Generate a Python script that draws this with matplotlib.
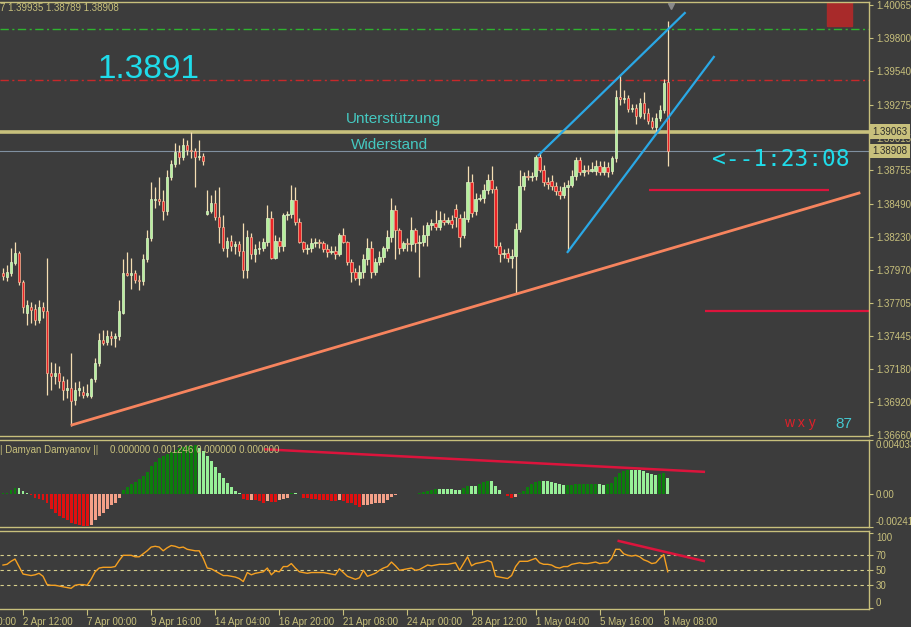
import matplotlib.pyplot as plt
import matplotlib.transforms as mtransforms
from matplotlib.patches import Rectangle
import numpy as np

plt.rcParams['font.family'] = ['Liberation Sans', 'DejaVu Sans']

BG = '#3c3c3c'
FG = '#c8c07c'
WICK = '#f5deb3'
BULL = '#b4f09c'
BEAR = '#ec2226'

# H4 candles, oldest first
opens = [1.3794, 1.3791, 1.3794, 1.3802, 1.3810, 1.3787, 1.3763, 1.3767, 1.3766, 1.3757,
         1.3767, 1.3764, 1.3715, 1.3713, 1.3715, 1.3709, 1.3702, 1.3703, 1.3694, 1.3702,
         1.3700, 1.3698, 1.3697, 1.3710, 1.3723, 1.3741, 1.3740, 1.3744, 1.3743, 1.3744,
         1.3763, 1.3794, 1.3793, 1.3794, 1.3789, 1.3788, 1.3805, 1.3822, 1.3852, 1.3853,
         1.3851, 1.3843, 1.3870, 1.3881, 1.3890, 1.3886, 1.3896, 1.3892, 1.3891, 1.3886,
         1.3887, 1.3841, 1.3843, 1.3850, 1.3839, 1.3831, 1.3814, 1.3820, 1.3816, 1.3817,
         1.3812, 1.3797, 1.3823, 1.3809, 1.3813, 1.3814, 1.3819, 1.3838, 1.3806, 1.3820,
         1.3816, 1.3840, 1.3841, 1.3852, 1.3835, 1.3819, 1.3813, 1.3814, 1.3818, 1.3819,
         1.3818, 1.3813, 1.3811, 1.3812, 1.3809, 1.3824, 1.3819, 1.3803, 1.3795, 1.3790,
         1.3795, 1.3805, 1.3814, 1.3795, 1.3803, 1.3807, 1.3814, 1.3823, 1.3844, 1.3828,
         1.3814, 1.3818, 1.3817, 1.3828, 1.3818, 1.3819, 1.3824, 1.3832, 1.3834, 1.3831,
         1.3836, 1.3835, 1.3836, 1.3845, 1.3838, 1.3824, 1.3837, 1.3866, 1.3843, 1.3853,
         1.3854, 1.3860, 1.3868, 1.3861, 1.3816, 1.3809, 1.3810, 1.3806, 1.3808, 1.3829,
         1.3863, 1.3871, 1.3870, 1.3871, 1.3886, 1.3876, 1.3866, 1.3867, 1.3863, 1.3859,
         1.3856, 1.3862, 1.3864, 1.3871, 1.3884, 1.3874, 1.3876, 1.3875, 1.3875, 1.3879,
         1.3874, 1.3878, 1.3875, 1.3885, 1.3934, 1.3932, 1.3933, 1.3924, 1.3925, 1.3919,
         1.3929, 1.3921, 1.3915, 1.3910, 1.3917, 1.3923, 1.39457]
highs = [1.3798, 1.3801, 1.3814, 1.3819, 1.3812, 1.3789, 1.3773, 1.3771, 1.3770, 1.3773,
         1.3771, 1.3806, 1.3724, 1.3723, 1.3721, 1.3713, 1.3710, 1.3731, 1.3708, 1.3709,
         1.3705, 1.3706, 1.3711, 1.3727, 1.3747, 1.3749, 1.3749, 1.3748, 1.3747, 1.3773,
         1.3805, 1.3811, 1.3806, 1.3797, 1.3793, 1.3809, 1.3828, 1.3866, 1.3862, 1.3870,
         1.3860, 1.3876, 1.3884, 1.3897, 1.3896, 1.3901, 1.3900, 1.3906, 1.3893, 1.3900,
         1.3889, 1.3860, 1.3856, 1.3860, 1.3862, 1.3840, 1.3823, 1.3824, 1.3820, 1.3820,
         1.3834, 1.3828, 1.3826, 1.3817, 1.3820, 1.3822, 1.3848, 1.3843, 1.3824, 1.3823,
         1.3842, 1.3843, 1.3864, 1.3862, 1.3838, 1.3820, 1.3817, 1.3822, 1.3822, 1.3821,
         1.3820, 1.3817, 1.3816, 1.3816, 1.3826, 1.3830, 1.3820, 1.3805, 1.3798, 1.3801,
         1.3809, 1.3822, 1.3820, 1.3806, 1.3812, 1.3816, 1.3828, 1.3854, 1.3848, 1.3830,
         1.3820, 1.3822, 1.3839, 1.3830, 1.3824, 1.3832, 1.3835, 1.3837, 1.3844, 1.3843,
         1.3842, 1.3839, 1.3840, 1.3849, 1.3841, 1.3843, 1.3879, 1.3873, 1.3858, 1.3857,
         1.3865, 1.3873, 1.3879, 1.3863, 1.3819, 1.3813, 1.3814, 1.3813, 1.3834, 1.3876,
         1.3874, 1.3876, 1.3874, 1.3888, 1.3889, 1.3880, 1.3870, 1.3872, 1.3866, 1.3863,
         1.3866, 1.3868, 1.3876, 1.3886, 1.3886, 1.3880, 1.3880, 1.3882, 1.3884, 1.3883,
         1.3883, 1.3882, 1.3887, 1.3939, 1.3951, 1.3939, 1.3935, 1.3928, 1.3928, 1.3933,
         1.3938, 1.3925, 1.3918, 1.3921, 1.3927, 1.3948, 1.39935]
lows = [1.3789, 1.3788, 1.3792, 1.3801, 1.3785, 1.3763, 1.3753, 1.3755, 1.3753, 1.3755,
        1.3759, 1.3698, 1.3702, 1.3706, 1.3703, 1.3694, 1.3695, 1.3673, 1.3690, 1.3697,
        1.3695, 1.3696, 1.3695, 1.3708, 1.3721, 1.3737, 1.3737, 1.3737, 1.3736, 1.3741,
        1.3762, 1.3792, 1.3782, 1.3786, 1.3781, 1.3785, 1.3803, 1.3820, 1.3846, 1.3848,
        1.3836, 1.3840, 1.3868, 1.3878, 1.3881, 1.3884, 1.3888, 1.3885, 1.3862, 1.3884,
        1.3880, 1.3840, 1.3842, 1.3836, 1.3818, 1.3812, 1.3807, 1.3812, 1.3809, 1.3808,
        1.3790, 1.3790, 1.3805, 1.3803, 1.3809, 1.3812, 1.3816, 1.3805, 1.3805, 1.3811,
        1.3812, 1.3836, 1.3838, 1.3832, 1.3818, 1.3811, 1.3809, 1.3811, 1.3815, 1.3814,
        1.3811, 1.3807, 1.3809, 1.3805, 1.3808, 1.3818, 1.3801, 1.3787, 1.3789, 1.3785,
        1.3790, 1.3801, 1.3790, 1.3793, 1.3801, 1.3803, 1.3812, 1.3819, 1.3805, 1.3809,
        1.3812, 1.3812, 1.3812, 1.3811, 1.3791, 1.3816, 1.3816, 1.3828, 1.3828, 1.3828,
        1.3832, 1.3833, 1.3830, 1.3831, 1.3815, 1.3822, 1.3835, 1.3839, 1.3840, 1.3851,
        1.3850, 1.3857, 1.3858, 1.3814, 1.3803, 1.3806, 1.3803, 1.3798, 1.3778, 1.3827,
        1.3860, 1.3868, 1.3867, 1.3868, 1.3874, 1.3863, 1.3861, 1.3860, 1.3856, 1.3853,
        1.3854, 1.3812, 1.3862, 1.3868, 1.3872, 1.3871, 1.3873, 1.3874, 1.3872, 1.3872,
        1.3872, 1.3870, 1.3873, 1.3882, 1.3927, 1.3929, 1.3922, 1.3922, 1.3912, 1.3917,
        1.3916, 1.3912, 1.3908, 1.3906, 1.3915, 1.3921, 1.38789]
closes = [1.3792, 1.3795, 1.3803, 1.3810, 1.3787, 1.3767, 1.3769, 1.3765, 1.3757, 1.3767,
          1.3764, 1.3715, 1.3713, 1.3715, 1.3709, 1.3702, 1.3703, 1.3693, 1.3702, 1.3703,
          1.3698, 1.3699, 1.3710, 1.3723, 1.3741, 1.3739, 1.3744, 1.3743, 1.3744, 1.3764,
          1.3794, 1.3793, 1.3794, 1.3789, 1.3788, 1.3805, 1.3822, 1.3853, 1.3853, 1.3851,
          1.3843, 1.3870, 1.3881, 1.3890, 1.3886, 1.3896, 1.3892, 1.3891, 1.3886, 1.3887,
          1.3883, 1.3843, 1.3850, 1.3839, 1.3831, 1.3814, 1.3820, 1.3816, 1.3817, 1.3812,
          1.3797, 1.3823, 1.3809, 1.3813, 1.3814, 1.3819, 1.3838, 1.3806, 1.3820, 1.3816,
          1.3840, 1.3841, 1.3852, 1.3835, 1.3819, 1.3813, 1.3814, 1.3818, 1.3819, 1.3818,
          1.3813, 1.3811, 1.3812, 1.3809, 1.3824, 1.3819, 1.3803, 1.3795, 1.3790, 1.3795,
          1.3805, 1.3814, 1.3795, 1.3803, 1.3807, 1.3814, 1.3823, 1.3844, 1.3828, 1.3814,
          1.3818, 1.3817, 1.3828, 1.3818, 1.3819, 1.3824, 1.3832, 1.3834, 1.3831, 1.3836,
          1.3835, 1.3836, 1.3833, 1.3839, 1.3823, 1.3838, 1.3866, 1.3842, 1.3853, 1.3854,
          1.3860, 1.3868, 1.3861, 1.3816, 1.3809, 1.3810, 1.3806, 1.3808, 1.3829, 1.3863,
          1.3871, 1.3870, 1.3871, 1.3886, 1.3876, 1.3866, 1.3865, 1.3863, 1.3859, 1.3856,
          1.3862, 1.3864, 1.3871, 1.3884, 1.3874, 1.3876, 1.3875, 1.3877, 1.3879, 1.3874,
          1.3878, 1.3874, 1.3885, 1.3934, 1.3932, 1.3933, 1.3924, 1.3925, 1.3919, 1.3929,
          1.3921, 1.3915, 1.3910, 1.3917, 1.3923, 1.3945, 1.38908]

# oscillator histogram ("Damyan Damyanov")
osc = [0.00008, 0.00011, 0.00030, 0.00049, 0.00046, 0.00023, 0.00011, -0.00004, -0.00030, -0.00038,
       -0.00039, -0.00068, -0.00106, -0.00137, -0.00159, -0.00175, -0.00190, -0.00213, -0.00220, -0.00228,
       -0.00235, -0.00236, -0.00228, -0.00190, -0.00159, -0.00137, -0.00106, -0.00083, -0.00061, -0.00030,
       0.00030, 0.00053, 0.00076, 0.00091, 0.00114, 0.00137, 0.00167, 0.00213, 0.00243, 0.00266,
       0.00281, 0.00296, 0.00311, 0.00326, 0.00342, 0.00349, 0.00357, 0.00361, 0.00364, 0.00342,
       0.00319, 0.00288, 0.00250, 0.00205, 0.00159, 0.00121, 0.00083, 0.00053, 0.00023, 0.00008,
       -0.00038, -0.00046, -0.00042, -0.00046, -0.00053, -0.00061, -0.00053, -0.00057, -0.00058, -0.00046,
       -0.00038, -0.00030, 0.00008, 0.00006, 0.00002, -0.00030, -0.00031, -0.00034, -0.00038, -0.00039,
       -0.00042, -0.00046, -0.00049, -0.00050, -0.00046, -0.00053, -0.00061, -0.00068, -0.00083, -0.00091,
       -0.00083, -0.00076, -0.00075, -0.00068, -0.00065, -0.00061, -0.00046, -0.00023, -0.00008, 0.00002,
       0.00003, 0.00004, 0.00005, 0.00004, 0.00011, 0.00015, 0.00023, 0.00030, 0.00038, 0.00037,
       0.00036, 0.00036, 0.00036, 0.00035, 0.00032, 0.00046, 0.00061, 0.00059, 0.00058, 0.00076,
       0.00091, 0.00099, 0.00097, 0.00061, 0.00030, 0.00004, -0.00015, -0.00030, -0.00023, 0.00008,
       0.00023, 0.00053, 0.00076, 0.00091, 0.00099, 0.00098, 0.00096, 0.00093, 0.00083, 0.00076,
       0.00068, 0.00070, 0.00072, 0.00074, 0.00076, 0.00077, 0.00078, 0.00079, 0.00080, 0.00077,
       0.00072, 0.00074, 0.00083, 0.00129, 0.00159, 0.00175, 0.00182, 0.00181, 0.00179, 0.00178,
       0.00175, 0.00159, 0.00152, 0.00144, 0.00148, 0.00156, 0.001246]

rsi = [57, 58, 62, 65, 55, 45, 44, 43, 44, 46, 42, 31, 30, 30, 29, 28, 27, 26, 30, 31,
       31, 30, 38, 48, 53, 54, 54, 54, 55, 63, 70, 70, 70, 68, 68, 72, 76, 81, 82, 81,
       76, 80, 83, 82, 80, 81, 78, 77, 76, 76, 66, 53, 52, 49, 46, 43, 43, 42, 41, 39,
       35, 47, 44, 46, 47, 48, 53, 44, 49, 48, 55, 55, 59, 53, 48, 47, 46, 47, 47, 47,
       47, 46, 45, 44, 52, 47, 42, 40, 38, 40, 50, 42, 44, 46, 50, 53, 55, 61, 56, 50,
       51, 52, 53, 50, 51, 54, 57, 56, 57, 58, 58, 58, 59, 60, 50, 59, 68, 56, 59, 60,
       61, 63, 61, 42, 41, 40, 39, 43, 55, 62, 62, 62, 64, 66, 60, 58, 58, 57, 54, 53,
       55, 55, 58, 59, 60, 59, 59, 60, 61, 59, 60, 60, 66, 78, 78, 72, 70, 69, 70, 68,
       64, 62, 59, 60, 66, 71, 48]

date_pos = [5, 21, 37, 53, 69, 85, 101, 117, 133, 149, 165]
date_labels = ['2 Apr 12:00', '7 Apr 00:00', '9 Apr 16:00', '14 Apr 04:00',
               '16 Apr 20:00', '21 Apr 08:00', '24 Apr 00:00', '28 Apr 12:00', '1 May 04:00',
               '5 May 16:00', '8 May 08:00']
first_date_pos, first_date_label = -11, '30 Mar 20:00'
price_ticks = [1.40065, 1.39800, 1.39540, 1.39275, 1.39015, 1.38755, 1.38490, 1.38230,
               1.37970, 1.37705, 1.37445, 1.37180, 1.36920, 1.36660]

# drawn objects on the price chart
level_green = 1.39875
level_red = 1.39471
level_support = 1.39063
bid = 1.38908
trend_x, trend_y = [17.25, 213.75], [1.3674, 1.38576]
chan1_x, chan1_y = [133.75, 170.25], [1.38877, 1.40002]
chan2_x, chan2_y = [141.0, 177.5], [1.38109, 1.39654]
seg1 = (1.38600, 161.25, 206.25)
seg2 = (1.37642, 175.25, 216.25)
osc_line_x, osc_line_y = [65.5, 175.0], [0.00334, 0.00167]
rsi_line_x, rsi_line_y = [153.75, 175.0], [89.1, 62.4]

W, H = 911, 627
XL = (-0.75, 216.25)
fig = plt.figure(figsize=(W / 100, H / 100), dpi=100, facecolor=BG)


def panel(top, bottom):
    ax = fig.add_axes([0, 1 - bottom / H, 869 / W, (bottom - top) / H])
    ax.set_facecolor(BG)
    for s in ['top', 'right', 'bottom']:
        ax.spines[s].set_color(FG)
        ax.spines[s].set_linewidth(1)
    ax.spines['left'].set_visible(False)
    ax.yaxis.tick_right()
    ax.tick_params(axis='y', colors=FG, length=3, labelsize=7, pad=2)
    ax.set_xticks([])
    ax.set_xlim(*XL)
    return ax


ax = panel(2, 436)
ax.set_ylim(1.36652, 1.40089)
ax.set_yticks(price_ticks)
ax.set_yticklabels(['%.5f' % p for p in price_ticks])

idx = np.arange(len(closes))
o, h, l, c = map(np.array, (opens, highs, lows, closes))
up = c >= o
ax.vlines(idx, l, h, color=WICK, lw=0.9, zorder=3)
body_lo = np.minimum(o, c)
body_h = np.maximum(np.abs(c - o), 0.00003)
ax.bar(idx, body_h, bottom=body_lo, width=0.6,
       color=np.where(up, BULL, BEAR), edgecolor=np.where(up, '#e0f5c8', '#f4b896'),
       linewidth=0.5, zorder=4)

ax.axhline(level_green, color='#2fb52f', lw=1, dashes=[6, 2.5, 1.5, 2.5])
ax.axhline(level_red, color='#c8282a', lw=1, dashes=[6, 2.5, 1.5, 2.5])
ax.axhline(level_support, color='#c8c07c', lw=2.6, zorder=2)
ax.axhline(bid, color='#8090a0', lw=0.8, zorder=2)
ax.hlines(seg1[0], seg1[1], seg1[2], color='#dc143c', lw=1.6)
ax.hlines(seg2[0], seg2[1], seg2[2], color='#dc143c', lw=1.6)
ax.plot(trend_x, trend_y, color='#f7845e', lw=2, zorder=5)
ax.plot(chan1_x, chan1_y, color='#2aa8e6', lw=1.6, zorder=5)
ax.plot(chan2_x, chan2_y, color='#2aa8e6', lw=1.6, zorder=5)
ax.add_patch(Rectangle((205.75, 1.39899), 6.25, 0.01, color='#a82a2a', zorder=2))
ax.plot([166.75], [1.40055], marker='v', color='#8a8a8a', ms=5, zorder=6)

ax.text(23.5, 1.39551, '1.3891', color='#1fdcea', fontsize=24, va='center', ha='left')
ax.text(85.5, 1.39163, 'Unterstützung', color='#45c8c0', fontsize=11, va='center', ha='left')
ax.text(87, 1.38957, 'Widerstand', color='#45c8c0', fontsize=11, va='center', ha='left')
ax.text(177, 1.38845, '<--1:23:08', color='#1fdcea', fontsize=16.5, va='center', ha='left',
        family='DejaVu Sans Mono')
ax.text(195, 1.36755, 'w x y', color='#e0202a', fontsize=10, va='center', ha='left')
ax.text(207.75, 1.36747, '87', color='#45c8d0', fontsize=11, va='center', ha='left')
ax.text(0, 0.986, '7 1.39935 1.38789 1.38908', color=FG, fontsize=7, va='center',
        ha='left', transform=ax.transAxes)

tr = mtransforms.blended_transform_factory(ax.transAxes, ax.transData)
for val in (level_support, bid):
    ax.text(1.004, val, '%.5f' % val, transform=tr, color='#2a2a2a', fontsize=7,
            va='center', ha='left', clip_on=False, zorder=10,
            bbox=dict(boxstyle='square,pad=0.22', fc=FG, ec='none'))

# oscillator panel
ax2 = panel(440, 527)
ax2.set_ylim(-0.00243, 0.00402)
cols = []
for i, v in enumerate(osc):
    prev = osc[i - 1] if i else 0
    if v >= 0:
        cols.append('#0c7d0c' if v > prev else '#98f098')
    else:
        cols.append('#e01010' if v < prev else '#f4a088')
ax2.bar(idx, osc, width=0.72, color=cols, linewidth=0)
ax2.plot(osc_line_x, osc_line_y, color='#dc143c', lw=1.8)
ax2.set_yticks([0.004033, 0.0, -0.002419])
ax2.set_yticklabels(['0.004033', '0.00', '-0.002419'])
lab = ax2.get_yticklabels()
lab[0].set_va('top')
lab[2].set_va('bottom')
ax2.text(0, 0.885, '| Damyan Damyanov ||', color=FG, fontsize=7, va='center',
         ha='left', transform=ax2.transAxes)
ax2.text(110 / 869, 0.885, '0.000000 0.001246 0.000000 0.000000', color=FG, fontsize=7,
         va='center', ha='left', transform=ax2.transAxes)

# RSI panel
ax3 = panel(531, 609)
ax3.set_ylim(-1.6, 102.4)
for lv in (30, 50, 70):
    ax3.axhline(lv, color='#d8d08c', lw=0.8, dashes=[3, 3])
ax3.plot(idx, rsi, color='#f5a021', lw=1)
ax3.plot(rsi_line_x, rsi_line_y, color='#dc143c', lw=1.8)
ax3.set_yticks([100, 70, 50, 30, 0])
lab = ax3.get_yticklabels()
lab[0].set_va('top')
lab[4].set_va('bottom')
ax3.set_xticks(date_pos)
ax3.set_xticklabels(date_labels, ha='left')
ax3.tick_params(axis='x', colors=FG, length=4, labelsize=7, pad=2)
ax3.set_xlim(*XL)
trx = mtransforms.blended_transform_factory(ax3.transData, ax3.transAxes)
ax3.text(first_date_pos, -0.105, first_date_label, transform=trx, color=FG, fontsize=7,
         ha='left', va='top', clip_on=False)

plt.savefig('out.png', dpi=100, facecolor=BG)
plt.close()
